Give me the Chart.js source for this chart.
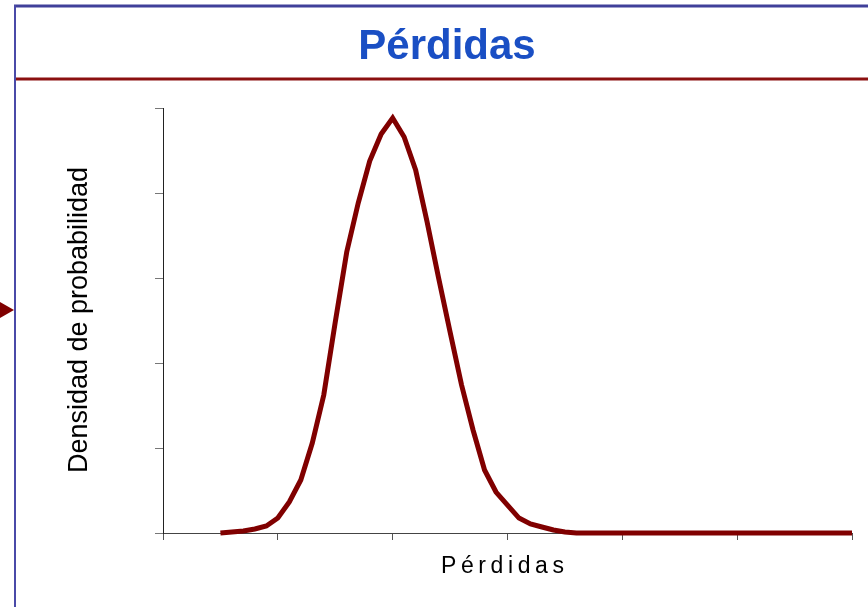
<!DOCTYPE html>
<html>
<head>
<meta charset="utf-8">
<script src="https://cdn.jsdelivr.net/npm/chart.js@4"></script>
<style>
  body { margin: 0; background: #fff; }
  canvas { display: block; }
</style>
</head>
<body>
<canvas id="chart" width="868" height="607"></canvas>
<script>
// Loss levels (x) and density (y)
const lossLevels = [5, 6, 7, 8, 9, 10, 11, 12, 13, 14, 15, 16, 17, 18, 19, 20,
  21, 22, 23, 24, 25, 26, 27, 28, 29, 30, 31, 32, 33, 34, 35, 36, 37, 38, 39, 40,
  41, 42, 43, 44, 45, 46, 47, 48, 49, 50, 51, 52, 53, 54, 55, 56, 57, 58, 59, 60];
const density = [0, 0.012, 0.024, 0.047, 0.082, 0.176, 0.365, 0.624, 1.059, 1.624,
  2.482, 3.306, 3.882, 4.376, 4.694, 4.882,
  4.659, 4.271, 3.659, 3.0, 2.365, 1.741, 1.212, 0.741, 0.482, 0.329,
  0.176, 0.106, 0.071, 0.035, 0.012, 0, 0, 0, 0, 0,
  0, 0, 0, 0, 0, 0, 0, 0, 0, 0, 0, 0, 0, 0, 0, 0, 0, 0, 0, 0];
const xTicks = [0, 10, 20, 30, 40, 50, 60];
const yTicks = [0, 1, 2, 3, 4, 5];

const chartTitle = 'Pérdidas';
const xTitle = 'Pérdidas';
const yTitle = 'Densidad de probabilidad';

// frame, title bar, arrow and axis titles
const framePlugin = {
  id: 'frame',
  beforeDraw(chart) {
    const ctx = chart.ctx;
    ctx.save();
    ctx.fillStyle = '#fff';
    ctx.fillRect(0, 0, chart.width, chart.height);

    // top border
    ctx.strokeStyle = '#40409a';
    ctx.lineWidth = 3;
    ctx.beginPath();
    ctx.moveTo(14, 6);
    ctx.lineTo(868, 6);
    ctx.stroke();
    // left border
    ctx.strokeStyle = '#4a4aa8';
    ctx.lineWidth = 2;
    ctx.beginPath();
    ctx.moveTo(15, 5);
    ctx.lineTo(15, 607);
    ctx.stroke();
    // red line below title
    ctx.strokeStyle = '#8b1010';
    ctx.lineWidth = 3;
    ctx.beginPath();
    ctx.moveTo(16, 79);
    ctx.lineTo(868, 79);
    ctx.stroke();

    // small arrow on the left edge
    ctx.fillStyle = '#800000';
    ctx.beginPath();
    ctx.moveTo(0, 302);
    ctx.lineTo(14, 310);
    ctx.lineTo(0, 318);
    ctx.closePath();
    ctx.fill();

    // title
    ctx.fillStyle = '#1a4fc4';
    ctx.font = 'bold 42px "Liberation Sans", Arial, sans-serif';
    ctx.textAlign = 'center';
    ctx.textBaseline = 'alphabetic';
    ctx.fillText(chartTitle, 447, 59);

    // x title
    ctx.fillStyle = '#000';
    ctx.font = '23px "Liberation Sans", Arial, sans-serif';
    ctx.letterSpacing = '4.6px';
    ctx.textAlign = 'left';
    ctx.fillText(xTitle, 441, 573);
    ctx.letterSpacing = '0px';

    // y title
    ctx.translate(87, 320);
    ctx.rotate(-Math.PI / 2);
    ctx.font = '27px "Liberation Sans", Arial, sans-serif';
    ctx.textAlign = 'center';
    ctx.fillText(yTitle, 0, 0);
    ctx.restore();
  }
};

new Chart(document.getElementById('chart'), {
  type: 'line',
  data: {
    datasets: [{
      data: lossLevels.map((x, i) => ({ x: x, y: density[i] })),
      borderColor: '#800000',
      borderWidth: 5,
      pointRadius: 0,
      tension: 0,
      fill: false,
      clip: false
    }]
  },
  options: {
    responsive: false,
    animation: false,
    layout: { padding: { left: 155, top: 108, right: 16, bottom: 0 } },
    plugins: {
      legend: { display: false },
      title: { display: false },
      tooltip: { enabled: false }
    },
    scales: {
      x: {
        type: 'linear',
        min: 0,
        max: 60,
        afterBuildTicks: s => { s.ticks = xTicks.map(v => ({ value: v })); },
        afterFit: s => { s.height = 74; },
        ticks: { display: false },
        grid: { drawOnChartArea: false, drawTicks: true, tickLength: 7, color: '#555' },
        border: { display: true, color: '#444', width: 1 }
      },
      y: {
        min: 0,
        max: 5,
        afterBuildTicks: s => { s.ticks = yTicks.map(v => ({ value: v })); },
        afterFit: s => { s.width = 8; },
        ticks: { display: false },
        grid: { drawOnChartArea: false, drawTicks: true, tickLength: 8, color: '#777' },
        border: { display: true, color: '#222', width: 1 }
      }
    }
  },
  plugins: [framePlugin]
});
</script>
</body>
</html>
